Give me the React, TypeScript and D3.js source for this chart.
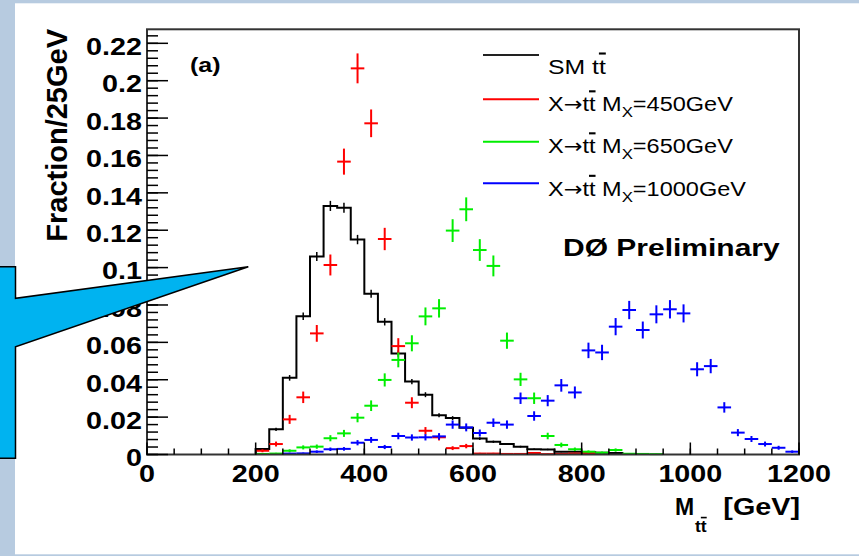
import React from "react";
import * as d3 from "d3";

const W = 859;
const H = 556;
const FONT = "'Liberation Sans', Arial, Helvetica, sans-serif";

// histogram binning [GeV]
const BIN = 25;

// SM ttbar, bins from 200 GeV
const smStart = 200;
const smValues = [
  0.003, 0.0135, 0.041, 0.074, 0.106, 0.133, 0.132, 0.115, 0.086, 0.071, 0.054,
  0.039, 0.032, 0.021, 0.0195, 0.0143, 0.0085, 0.0068, 0.0056, 0.0042, 0.0028,
  0.0027, 0.0015, 0.0015, 0.0012, 0.001, 0.0008,
];

// X->ttbar, M_X = 450 GeV
const m450Start = 200;
const m450Values = [
  0.002, 0.0056, 0.0188, 0.0306, 0.0648, 0.1014, 0.1567, 0.2066, 0.1772, 0.1153,
  0.058, 0.0277, 0.0127, 0.0092, 0.0034, 0.0045, 0.0005, 0.0005, 0.0003, 0.0003,
  0.0008, 0.0002, 0.0003, 0.0005, 0.0008,
];

// X->ttbar, M_X = 650 GeV
const m650Start = 200;
const m650Values = [
  0.0003, 0.0005, 0.002, 0.0038, 0.0042, 0.0087, 0.0113, 0.0197, 0.0261, 0.0399,
  0.0506, 0.0595, 0.0739, 0.0782, 0.1198, 0.1312, 0.1094, 0.1009, 0.0609, 0.0402,
  0.0301, 0.0099, 0.0051, 0.0028, 0.0015, 0.001, 0.0024, 0.0004, 0.0003, 0.0002,
];

// X->ttbar, M_X = 1000 GeV
const m1000Start = 250;
const m1000Values = [
  0.0005, 0.0006, 0.0015, 0.0028, 0.003, 0.0063, 0.0078, 0.004, 0.0099, 0.0091,
  0.0092, 0.0097, 0.016, 0.0145, 0.0115, 0.017, 0.016, 0.0301, 0.0206, 0.0288,
  0.037, 0.0332, 0.0557, 0.0546, 0.0684, 0.0773, 0.0666, 0.075, 0.0777, 0.0755,
  0.0456, 0.0473, 0.0252, 0.0117, 0.0083, 0.0056, 0.0036, 0.0015,
];

const xTicks = [0, 200, 400, 600, 800, 1000, 1200];
const yTicks = [0, 0.02, 0.04, 0.06, 0.08, 0.1, 0.12, 0.14, 0.16, 0.18, 0.2, 0.22];
const yTickLabels = ["0", "0.02", "0.04", "0.06", "0.08", "0.1", "0.12", "0.14", "0.16", "0.18", "0.2", "0.22"];

const legendColors = ["#222", "#ff0000", "#00ee00", "#0000ff"];
const legendMass = ["", "450", "650", "1000"];

// stat. error per bin ~ sqrt of content (MC sample size)
const errScaleSM = 0.0074;
const errScaleX = 0.0176;

const SX = 1.25; // horizontal stretch of the picture's lettering

const x = d3.scaleLinear().domain([0, 1200]).range([147, 799]);
const y = d3.scaleLinear().domain([0, 0.2275]).range([454.5, 29.3]);

type Bin = { lo: number; hi: number; v: number };
const toBins = (start: number, vals: number[]): Bin[] =>
  vals.map((v, i) => ({ lo: start + i * BIN, hi: start + (i + 1) * BIN, v }));

const T = ({ x, y, size, weight = "bold", anchor = "start", sx = SX, children }: any) => (
  <text
    transform={`translate(${x},${y}) scale(${sx},1)`}
    fontFamily={FONT}
    fontSize={size}
    fontWeight={weight}
    textAnchor={anchor}
    fill="#000"
  >
    {children}
  </text>
);

const Crosses = ({ bins, color }: { bins: Bin[]; color: string }) => (
  <g stroke={color} strokeWidth={2}>
    {bins.map((b, i) => {
      const c = (b.lo + b.hi) / 2;
      const e = errScaleX * Math.sqrt(b.v);
      return (
        <g key={i}>
          <line x1={x(b.lo)} x2={x(b.hi)} y1={y(b.v)} y2={y(b.v)} />
          <line x1={x(c)} x2={x(c)} y1={y(Math.max(0, b.v - e))} y2={y(b.v + e)} />
        </g>
      );
    })}
  </g>
);

export default function App() {
  const smBins = toBins(smStart, smValues);
  const pts: [number, number][] = [[smBins[0].lo, 0]];
  smBins.forEach((b) => {
    pts.push([b.lo, b.v]);
    pts.push([b.hi, b.v]);
  });
  pts.push([smBins[smBins.length - 1].hi, 0]);
  const smPath = d3
    .line<[number, number]>()
    .x((d) => x(d[0]))
    .y((d) => y(d[1]))(pts);

  const yMinor = d3.range(0, 0.2275, 0.004);
  const xMinor = d3.range(0, 1201, 50);
  const [x0, x1] = x.range();
  const [y0, y1] = y.range();

  const legendLineY = [55, 99.3, 141.7, 183.3];
  const legendTextY = [73.5, 111, 153, 195.5];

  return (
    <svg width={W} height={H} style={{ position: "absolute", left: 0, top: 0 }}>
      <rect width={W} height={H} fill="#b7cbe0" />
      <rect x={15} y={3.3} width={W - 15} height={551} fill="#fff" />

      {/* SM histogram */}
      <path d={smPath || ""} fill="none" stroke="#000" strokeWidth={2} />
      <g stroke="#000" strokeWidth={1.5}>
        {smBins.map((b, i) => {
          const c = (b.lo + b.hi) / 2;
          const e = errScaleSM * Math.sqrt(b.v);
          return <line key={i} x1={x(c)} x2={x(c)} y1={y(b.v - e)} y2={y(b.v + e)} />;
        })}
      </g>

      <Crosses bins={toBins(m450Start, m450Values)} color={legendColors[1]} />
      <Crosses bins={toBins(m650Start, m650Values)} color={legendColors[2]} />
      <Crosses bins={toBins(m1000Start, m1000Values)} color={legendColors[3]} />

      {/* frame and ticks */}
      <rect x={x0} y={y1} width={x1 - x0} height={y0 - y1} fill="none" stroke="#333" strokeWidth={2} />
      <g stroke="#000" strokeWidth={1.5}>
        {yMinor.map((t, i) => (
          <line key={"ym" + i} x1={x0} x2={x0 + 11} y1={y(t)} y2={y(t)} />
        ))}
        {yTicks.map((t, i) => (
          <line key={"yM" + i} x1={x0} x2={x0 + 21} y1={y(t)} y2={y(t)} />
        ))}
        {xMinor.map((t, i) => (
          <line key={"xm" + i} x1={x(t)} x2={x(t)} y1={y0} y2={y0 - 6} />
        ))}
        {xTicks.map((t, i) => (
          <line key={"xM" + i} x1={x(t)} x2={x(t)} y1={y0} y2={y0 - 12} />
        ))}
      </g>

      {yTicks.map((t, i) => (
        <T key={"yl" + i} x={142} y={y(t) + 11.8} size={23} anchor="end">
          {yTickLabels[i]}
        </T>
      ))}
      {xTicks.map((t, i) => (
        <T key={"xl" + i} x={x(t)} y={481.5} size={23} anchor="middle">
          {t}
        </T>
      ))}

      {/* axis titles */}
      <text
        transform="translate(67,29) rotate(-90)"
        fontFamily={FONT}
        fontSize={29}
        fontWeight="bold"
        textAnchor="end"
      >
        Fraction/25GeV
      </text>
      <T x={675} y={515} size={23} sx={1}>M</T>
      <T x={695} y={532} size={16} sx={1.1}>
        t<tspan style={{ textDecoration: "overline" }}>t</tspan>
      </T>
      <T x={800} y={515} size={23} anchor="end">[GeV]</T>

      <T x={190} y={72} size={20}>(a)</T>
      <T x={563} y={256} size={24}>DØ Preliminary</T>

      {/* legend */}
      {legendColors.map((c, i) => (
        <g key={"lg" + i}>
          <line x1={483} x2={539} y1={legendLineY[i]} y2={legendLineY[i]} stroke={c} strokeWidth={2} />
          {i === 0 ? (
            <T x={548} y={legendTextY[i]} size={21} weight="normal" sx={1.18}>
              SM t<tspan style={{ textDecoration: "overline" }}>t</tspan>
            </T>
          ) : (
            <T x={548} y={legendTextY[i]} size={21} weight="normal" sx={1.12}>
              X<tspan fontFamily="'DejaVu Sans', sans-serif" fontSize={20}>→</tspan>t
              <tspan style={{ textDecoration: "overline" }}>t</tspan> M
              <tspan fontSize={15} dy={6}>X</tspan>
              <tspan dy={-6}>={legendMass[i]}GeV</tspan>
            </T>
          )}
        </g>
      ))}

      {/* callout */}
      <polygon
        points="-3,266.7 15.5,266.7 15.5,298.3 248.3,266.7 15.5,346.7 15.5,458.3 -3,458.3"
        fill="#00b3f0"
        stroke="#000"
        strokeWidth={1.5}
      />
    </svg>
  );
}
